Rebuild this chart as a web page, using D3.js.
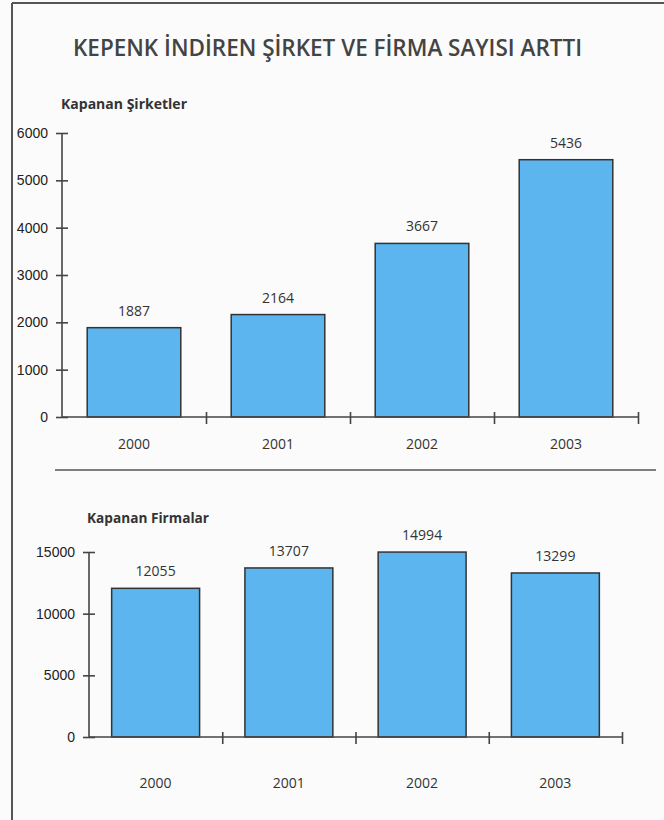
<!DOCTYPE html>
<html>
<head>
<meta charset="utf-8">
<script src="https://cdn.jsdelivr.net/npm/d3@7"></script>
<style>
  body { margin: 0; background: #fbfbfb; }
  svg { display: block; font-family: "Open Sans", sans-serif; }
  .axis path, .axis line { stroke: #444; stroke-width: 1.6; }
  .axis text { fill: #222; font-size: 14px; }
  .val { fill: #333; font-size: 14px; text-anchor: middle; }
  .year { fill: #333; font-size: 14px; text-anchor: middle; }
  .bar { fill: #5cb5ee; stroke: #333; stroke-width: 1.5; }
</style>
</head>
<body>
<svg width="664" height="820"></svg>
<script>
const years = ["2000", "2001", "2002", "2003"];
const sirketler = [1887, 2164, 3667, 5436];
const firmalar = [12055, 13707, 14994, 13299];
const sirketTicks = [0, 1000, 2000, 3000, 4000, 5000, 6000];
const firmaTicks = [0, 5000, 10000, 15000];

const svg = d3.select("svg");

// page frame
svg.append("line").attr("x1", 12).attr("x2", 664).attr("y1", 3).attr("y2", 3)
	.attr("stroke", "#555").attr("stroke-width", 2);
svg.append("line").attr("x1", 12).attr("x2", 12).attr("y1", 3).attr("y2", 820)
	.attr("stroke", "#555").attr("stroke-width", 2);
// separator
svg.append("line").attr("x1", 55).attr("x2", 656).attr("y1", 470).attr("y2", 470)
	.attr("stroke", "#555").attr("stroke-width", 1.3);

svg.append("text")
	.attr("x", 73).attr("y", 56)
	.attr("textLength", 509).attr("lengthAdjust", "spacingAndGlyphs")
	.style("font-size", "23px").style("font-weight", 600).style("fill", "#444")
	.text("KEPENK İNDİREN ŞİRKET VE FİRMA SAYISI ARTTI");

function chart(opts) {
	const g = svg.append("g");
	const x = d3.scaleBand().domain(years).range([opts.x0, opts.x1])
		.paddingInner(opts.pad).paddingOuter(opts.pad / 2);
	const y = d3.scaleLinear().domain([0, opts.max]).range([opts.y0, opts.yTop]);

	g.append("text")
		.attr("x", opts.titleX).attr("y", opts.titleY)
		.attr("textLength", opts.titleW).attr("lengthAdjust", "spacingAndGlyphs")
		.style("font-size", "14px").style("font-weight", 700).style("fill", "#333")
		.text(opts.title);

	g.selectAll("rect.bar")
		.data(opts.values)
		.enter()
		.append("rect")
		.attr("class", "bar")
		.attr("x", (_, i) => x(years[i]))
		.attr("width", x.bandwidth())
		.attr("y", (d) => y(d))
		.attr("height", (d) => y(0) - y(d));

	g.selectAll("text.val")
		.data(opts.values)
		.enter()
		.append("text")
		.attr("class", "val")
		.attr("x", (_, i) => x(years[i]) + x.bandwidth() / 2)
		.attr("y", (d) => y(d) - 12)
		.text((d) => d);

	// y axis
	const yAxis = g.append("g")
		.attr("class", "axis")
		.attr("transform", `translate(${opts.x0},0)`)
		.call(d3.axisLeft(y).tickValues(opts.ticks).tickSize(6).tickPadding(8).tickFormat(d3.format("d")));
	yAxis.select(".domain").attr("d", `M0,${opts.yTop}V${opts.y0}`);
	yAxis.selectAll(".tick line").attr("x1", -6).attr("x2", 6);
	yAxis.selectAll(".tick text").attr("x", -opts.labelGap);

	// x axis, ticks at category boundaries
	const edge = d3.scaleLinear().domain([0, years.length]).range([opts.x0, opts.x1]);
	const xAxis = g.append("g")
		.attr("class", "axis")
		.attr("transform", `translate(0,${opts.y0})`)
		.call(d3.axisBottom(edge).tickValues(d3.range(1, years.length + 1)).tickSize(6).tickFormat(""));
	xAxis.select(".domain").attr("d", `M${opts.x0},0H${opts.x1}`);
	xAxis.selectAll(".tick line").attr("y1", -5).attr("y2", 7);

	g.selectAll("text.year")
		.data(years)
		.enter()
		.append("text")
		.attr("class", "year")
		.attr("x", (d) => x(d) + x.bandwidth() / 2)
		.attr("y", opts.y0 + opts.yearGap)
		.text((d) => d);
}

chart({
	title: "Kapanan Şirketler", titleX: 61, titleY: 109, titleW: 126,
	values: sirketler, ticks: sirketTicks, max: 6000,
	x0: 62, x1: 638, y0: 417, yTop: 133, pad: 0.35, labelGap: 14, yearGap: 32
});

chart({
	title: "Kapanan Firmalar", titleX: 87, titleY: 523, titleW: 122,
	values: firmalar, ticks: firmaTicks, max: 15000,
	x0: 89, x1: 622, y0: 737, yTop: 552, pad: 0.34, labelGap: 14, yearGap: 51
});
</script>
</body>
</html>
